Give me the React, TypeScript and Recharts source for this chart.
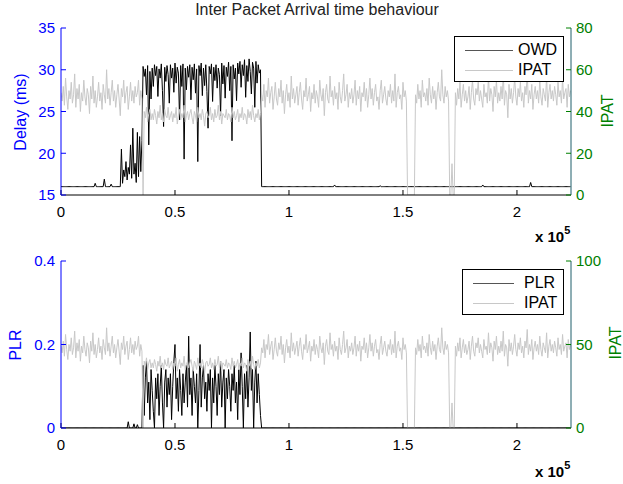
import React from "react";
import { LineChart, Line, XAxis, YAxis } from "recharts";

const FONT = '"Liberation Sans", Arial, Helvetica, sans-serif';
const BLUE = "#0000ff";
const GREEN = "#008000";
const GRAY = "#c8c8c8";
const RIGHT_AXIS = "#1f5f6a";

// sample spacing on the x axis (packets)
const STEP = 500;
const X_MAX = 223700;
const X_TICKS = [0, 50000, 100000, 150000, 200000];

const DELAY_TICKS = [15, 20, 25, 30, 35];
const IPAT_TOP_TICKS = [0, 20, 40, 60, 80];
const PLR_TICKS = [0, 0.2, 0.4];
const IPAT_BOTTOM_TICKS = [0, 50, 100];

// one-way delay (ms), 16 samples per row
const owd = [
  16, 16, 16, 16, 16, 16, 16, 16, 16, 16, 16, 16, 16, 16, 16, 16,
  16, 16, 16, 16, 16, 16, 16, 16, 16, 16, 16, 16, 16, 16, 16.4, 16,
  16, 16, 16, 16, 16, 16, 16.9, 16, 16, 16, 16, 16, 16.3, 16, 16, 16,
  16, 16, 16, 16, 16, 20.5, 16.4, 18, 17.2, 19, 16.8, 18.3, 17.5, 21, 17, 23,
  17.5, 18.8, 16.5, 22.5, 17.2, 22, 17.8, 21.5, 30.4, 29.2, 30.1, 27, 30.5, 21, 29.8, 26.5,
  30.2, 28, 30.6, 29.3, 30.4, 26.8, 30.1, 29, 30.7, 27.5, 23.2, 30.3, 28.6, 30.5, 29.4, 26,
  30.6, 29, 30.2, 27.3, 30.8, 28.4, 30.3, 29.6, 24, 30.5, 28, 30.7, 19.3, 30.2, 27.6, 30.4,
  29.1, 30.6, 26.4, 30.3, 28.8, 30.7, 27.2, 30.1, 19, 30.5, 29.3, 30.8, 26.9, 30.2, 28.1, 30.6,
  27.4, 23, 30.4, 29.5, 30.7, 26.2, 30.3, 28.7, 30.6, 27.8, 30.2, 29.4, 24.5, 30.8, 28.3, 30.5,
  26.6, 30.3, 29.2, 30.9, 27.5, 30.4, 21.5, 30.6, 28.9, 30.2, 26.3, 30.8, 29.5, 31, 27.9, 30.6,
  29.3, 31.2, 26.7, 30.5, 28.6, 31.3, 29.8, 27.1, 30.9, 30.2, 25.5, 31, 28.4, 30.6, 29.6, 30,
  16, 16, 16, 16, 16, 16, 16, 16, 16, 16, 16, 16, 16, 16, 16, 16,
  16, 16, 16, 16, 16, 16, 16, 16, 16, 16, 16, 16, 16, 16, 16, 16,
  16, 16, 16, 16, 16, 16, 16, 16, 16, 16, 16, 16, 16, 16, 16, 16,
  16, 16, 16, 16, 16, 16, 16, 16, 16, 16, 16, 16, 16, 16, 16, 16,
  16.2, 16, 16, 16, 16, 16, 16, 16, 16, 16, 16, 16, 16, 16, 16, 16,
  16, 16, 16, 16, 16, 16, 16, 16, 16, 16, 16, 16, 16, 16, 16, 16,
  16, 16, 16, 16, 16, 16, 16, 16, 16.1, 16, 16, 16, 16, 16, 16, 16,
  16, 16, 16, 16, 16, 16, 16, 16, 16, 16, 16, 16, 16, 16, 16, 16,
  16, 16, 16, 16, 16, 16, 16, 16, 16, 16, 16, 16, 16, 16, 16, 16,
  16, 16, 16, 16, 16, 16, 16, 16, 16, 16, 16, 16, 16, 16, 16, 16,
  16, 16, 16, 16, 16, 16, 16, 16, 16, 16, 16, 16, 16, 16, 16, 16,
  16, 16, 16, 16, 16, 16, 16, 16, 16, 16, 16, 16, 16, 16, 16, 16,
  16, 16, 16.2, 16, 16, 16, 16, 16, 16, 16, 16, 16, 16, 16, 16, 16,
  16, 16, 16, 16, 16, 16, 16, 16, 16, 16, 16, 16, 16, 16, 16, 16,
  16, 16, 16, 16, 16, 16, 16, 16, 16, 16, 16, 16, 16.5, 16, 16, 16,
  16, 16, 16, 16, 16, 16, 16, 16, 16, 16, 16, 16, 16, 16, 16, 16,
  16, 16, 16, 16, 16, 16, 16, 16, 16, 16, 16, 16, 16, 16, 16, 16,
];

// inter packet arrival time, 16 samples per row
const ipat = [
  49, 45, 52, 43, 56, 47, 41, 50, 46, 54, 44, 48, 58, 42, 51, 46,
  53, 40, 49, 45, 55, 47, 43, 51, 48, 39, 52, 46, 57, 44, 50, 42,
  47, 54, 45, 49, 41, 53, 48, 44, 60, 46, 51, 43, 49, 55, 45, 50,
  42, 48, 53, 46, 38, 51, 47, 55, 44, 49, 52, 41, 47, 54, 45, 50,
  44, 52, 47, 49, 55, 43, 50, 46, 0, 40, 37, 42, 35, 39, 41, 36,
  39, 36, 41, 38, 34, 40, 37, 43, 36, 39, 35, 41, 38, 37, 42, 36,
  38, 40, 35, 39, 37, 42, 34, 38, 41, 36, 39, 37, 43, 35, 38, 40,
  36, 39, 41, 37, 34, 40, 38, 35, 42, 37, 39, 36, 41, 38, 33, 39,
  40, 37, 38, 42, 36, 39, 35, 41, 37, 38, 43, 36, 40, 34, 39, 38,
  37, 41, 36, 39, 38, 35, 42, 37, 40, 36, 38, 41, 35, 39, 37, 42,
  36, 39, 38, 34, 41, 37, 40, 36, 43, 38, 35, 39, 37, 41, 36, 39,
  48, 45, 53, 42, 50, 47, 56, 44, 49, 52, 41, 47, 54, 46, 43, 51,
  47, 55, 44, 50, 39, 48, 53, 45, 49, 42, 57, 46, 51, 44, 48, 52,
  43, 49, 54, 46, 41, 50, 47, 56, 45, 48, 52, 40, 49, 46, 53, 44,
  50, 47, 42, 55, 48, 45, 51, 38, 49, 53, 46, 44, 57, 47, 50, 43,
  52, 46, 49, 41, 54, 47, 44, 50, 58, 45, 48, 53, 42, 49, 46, 51,
  44, 48, 55, 43, 50, 46, 52, 40, 49, 47, 54, 45, 51, 42, 48, 56,
  46, 51, 43, 49, 53, 45, 47, 41, 50, 55, 44, 48, 52, 46, 43, 50,
  47, 53, 44, 50, 45, 58, 42, 49, 52, 46, 48, 41, 54, 47, 50, 45,
  0, 0, 0, 0, 0, 0, 0, 48, 44, 53, 46, 50, 42, 55, 47, 49,
  45, 51, 43, 56, 48, 44, 52, 46, 50, 41, 49, 54, 47, 45, 60, 48,
  44, 52, 47, 50, 45, 0, 0, 15, 0, 0, 49, 43, 51, 46, 54, 42,
  48, 53, 45, 50, 44, 47, 52, 41, 49, 55, 46, 43, 51, 48, 54, 45,
  50, 46, 42, 53, 47, 49, 44, 57, 45, 51, 48, 40, 52, 47, 55, 44,
  49, 45, 52, 46, 58, 43, 50, 48, 37, 53, 46, 51, 44, 49, 56, 47,
  43, 51, 47, 54, 45, 49, 42, 52, 48, 59, 44, 50, 46, 53, 41, 48,
  52, 46, 50, 44, 55, 47, 43, 51, 48, 45, 57, 42, 49, 53, 46, 50,
  45, 52, 48, 43, 54, 47, 50, 44, 56, 46, 49, 51, 42, 53, 47, 50,
];

// packet loss ratio, 16 samples per row
const plr = [
  0, 0, 0, 0, 0, 0, 0, 0, 0, 0, 0, 0, 0, 0, 0, 0,
  0, 0, 0, 0, 0, 0, 0, 0, 0, 0, 0, 0, 0, 0, 0, 0,
  0, 0, 0, 0, 0, 0, 0, 0, 0, 0, 0, 0, 0, 0, 0, 0,
  0, 0, 0, 0, 0, 0, 0, 0, 0, 0, 0, 0.015, 0, 0, 0, 0,
  0.01, 0, 0, 0.008, 0, 0, 0, 0, 0.15, 0.03, 0.12, 0.16, 0.06, 0.11, 0.02, 0.14,
  0.09, 0.04, 0, 0.12, 0.07, 0.13, 0.03, 0.1, 0.15, 0.06, 0, 0.11, 0.14, 0.05, 0.12, 0.08,
  0.13, 0.02, 0.1, 0.16, 0.2, 0.07, 0.12, 0.04, 0.14, 0.09, 0.03, 0.13, 0.06, 0.11, 0.15, 0.05,
  0.22, 0.08, 0.12, 0.03, 0.14, 0.1, 0.06, 0.13, 0, 0.09, 0.2, 0.05, 0.12, 0.15, 0.07, 0.11,
  0.04, 0.13, 0.09, 0.14, 0, 0.12, 0.06, 0.15, 0.1, 0.03, 0.13, 0.08, 0.16, 0.05, 0.11, 0.14,
  0, 0.12, 0.07, 0.14, 0.1, 0.04, 0.13, 0.09, 0.15, 0.06, 0.11, 0.02, 0.14, 0.08, 0.18, 0.1,
  0, 0.13, 0.07, 0.15, 0.05, 0.12, 0.23, 0.09, 0.14, 0, 0.11, 0.16, 0.06, 0.13, 0.08, 0.03,
  0, 0, 0, 0, 0, 0, 0, 0, 0, 0, 0, 0, 0, 0, 0, 0,
  0, 0, 0, 0, 0, 0, 0, 0, 0, 0, 0, 0, 0, 0, 0, 0,
  0, 0, 0, 0, 0, 0, 0, 0, 0, 0, 0, 0, 0, 0, 0, 0,
  0, 0, 0, 0, 0, 0, 0, 0, 0, 0, 0, 0, 0, 0, 0, 0,
  0, 0, 0, 0, 0, 0, 0, 0, 0, 0, 0, 0, 0, 0, 0, 0,
  0, 0, 0, 0, 0, 0, 0, 0, 0, 0, 0, 0, 0, 0, 0, 0,
  0, 0, 0, 0, 0, 0, 0, 0, 0, 0, 0, 0, 0, 0, 0, 0,
  0, 0, 0, 0, 0, 0, 0, 0, 0, 0, 0, 0, 0, 0, 0, 0,
  0, 0, 0, 0, 0, 0, 0, 0, 0, 0, 0, 0, 0, 0, 0, 0,
  0, 0, 0, 0, 0, 0, 0, 0, 0, 0, 0, 0, 0, 0, 0, 0,
  0, 0, 0, 0, 0, 0, 0, 0, 0, 0, 0, 0, 0, 0, 0, 0,
  0, 0, 0, 0, 0, 0, 0, 0, 0, 0, 0, 0, 0, 0, 0, 0,
  0, 0, 0, 0, 0, 0, 0, 0, 0, 0, 0, 0, 0, 0, 0, 0,
  0, 0, 0, 0, 0, 0, 0, 0, 0, 0, 0, 0, 0, 0, 0, 0,
  0, 0, 0, 0, 0, 0, 0, 0, 0, 0, 0, 0, 0, 0, 0, 0,
  0, 0, 0, 0, 0, 0, 0, 0, 0, 0, 0, 0, 0, 0, 0, 0,
  0, 0, 0, 0, 0, 0, 0, 0, 0, 0, 0, 0, 0, 0, 0, 0,
];

const data = owd.map((v, i) => ({ x: i * STEP, owd: v, ipat: ipat[i], plr: plr[i] }));

const fmtX = (v: number) => String(v / 1e5);
const tickFont = { fontSize: 15, fontFamily: FONT };

function Panel(props: {
  top: number;
  height: number;
  marginTop: number;
  xHeight: number;
  leftKey: string;
  leftDomain: [number, number];
  leftTicks: number[];
  rightDomain: [number, number];
  rightTicks: number[];
}) {
  return (
    <div style={{ position: "absolute", left: 0, top: props.top }}>
      <LineChart
        width={623}
        height={props.height}
        data={data}
        margin={{ top: props.marginTop, right: 0, bottom: 0, left: 0 }}
      >
        <XAxis
          xAxisId="b"
          dataKey="x"
          type="number"
          domain={[0, X_MAX]}
          ticks={X_TICKS}
          allowDataOverflow
          tickFormatter={fmtX}
          height={props.xHeight}
          tickSize={-5}
          tickMargin={16}
          axisLine={{ stroke: "#000" }}
          tickLine={{ stroke: "#000" }}
          tick={{ ...tickFont, fill: "#000" }}
        />
        <XAxis
          xAxisId="t"
          orientation="top"
          dataKey="x"
          type="number"
          domain={[0, X_MAX]}
          ticks={X_TICKS}
          allowDataOverflow
          height={0}
          tickSize={-5}
          tick={false}
          axisLine={{ stroke: "#000" }}
          tickLine={{ stroke: "#000" }}
        />
        <YAxis
          yAxisId="l"
          domain={props.leftDomain}
          ticks={props.leftTicks}
          allowDataOverflow
          width={61}
          tickSize={-5}
          tickMargin={11}
          axisLine={{ stroke: BLUE }}
          tickLine={{ stroke: BLUE }}
          tick={{ ...tickFont, fill: BLUE }}
        />
        <YAxis
          yAxisId="r"
          orientation="right"
          domain={props.rightDomain}
          ticks={props.rightTicks}
          allowDataOverflow
          width={52}
          tickSize={-5}
          tickMargin={10}
          axisLine={{ stroke: RIGHT_AXIS }}
          tickLine={{ stroke: GREEN }}
          tick={{ ...tickFont, fill: GREEN, textAnchor: "start" }}
        />
        <Line
          xAxisId="b"
          yAxisId="l"
          type="linear"
          dataKey={props.leftKey}
          stroke="#000"
          strokeWidth={1}
          dot={false}
          activeDot={false}
          isAnimationActive={false}
        />
        <Line
          xAxisId="b"
          yAxisId="r"
          type="linear"
          dataKey="ipat"
          stroke={GRAY}
          strokeWidth={1}
          dot={false}
          activeDot={false}
          isAnimationActive={false}
        />
      </LineChart>
    </div>
  );
}

function LegendBox(props: { left: number; top: number; width: number; lineX: number; lineW: number; textX: number; labels: string[] }) {
  const colors = ["#555", GRAY];
  return (
    <div
      style={{
        position: "absolute",
        left: props.left,
        top: props.top,
        width: props.width,
        height: 46,
        border: "1px solid #000",
        background: "#fff",
        boxSizing: "border-box",
      }}
    >
      {props.labels.map((lab, i) => (
        <React.Fragment key={lab}>
          <div
            style={{
              position: "absolute",
              left: props.lineX,
              top: 13 + i * 20,
              width: props.lineW,
              height: 0,
              borderTop: `1px solid ${colors[i]}`,
            }}
          />
          <div
            style={{
              position: "absolute",
              left: props.textX,
              top: 4 + i * 20,
              fontSize: 16,
              lineHeight: "18px",
              color: "#000",
            }}
          >
            {lab}
          </div>
        </React.Fragment>
      ))}
    </div>
  );
}

function VLabel(props: { x: number; y: number; color: string; text: string }) {
  return (
    <div
      style={{
        position: "absolute",
        left: props.x,
        top: props.y,
        transform: "translate(-50%, -50%) rotate(-90deg)",
        whiteSpace: "nowrap",
        color: props.color,
        fontSize: 16,
        lineHeight: "18px",
      }}
    >
      {props.text}
    </div>
  );
}

function Exponent(props: { top: number }) {
  return (
    <div style={{ position: "absolute", left: 535, top: props.top, fontSize: 15, fontWeight: "bold", color: "#000", whiteSpace: "nowrap" }}>
      x 10
      <span style={{ position: "relative", top: -8, fontSize: 11 }}>5</span>
    </div>
  );
}

export default function App() {
  return (
    <div
      style={{
        position: "absolute",
        left: 0,
        top: 0,
        width: 623,
        height: 484,
        background: "#fff",
        fontFamily: FONT,
        overflow: "hidden",
      }}
    >
      <div
        style={{
          position: "absolute",
          left: 0,
          width: 623,
          top: 1,
          textAlign: "center",
          fontSize: 16,
          lineHeight: "18px",
          color: "#222",
          paddingLeft: 11,
          boxSizing: "border-box",
        }}
      >
        Inter Packet Arrival time behaviour
      </div>
      <Panel
        top={0}
        height={240}
        marginTop={28}
        xHeight={45}
        leftKey="owd"
        leftDomain={[15, 35]}
        leftTicks={DELAY_TICKS}
        rightDomain={[0, 80]}
        rightTicks={IPAT_TOP_TICKS}
      />
      <Panel
        top={240}
        height={244}
        marginTop={21}
        xHeight={56}
        leftKey="plr"
        leftDomain={[0, 0.4]}
        leftTicks={PLR_TICKS}
        rightDomain={[0, 100]}
        rightTicks={IPAT_BOTTOM_TICKS}
      />
      <LegendBox left={454} top={36} width={110} lineX={10} lineW={48} textX={63} labels={["OWD", "IPAT"]} />
      <LegendBox left={462} top={269} width={102} lineX={10} lineW={41} textX={61} labels={["PLR", "IPAT"]} />
      <VLabel x={21} y={112} color={BLUE} text="Delay (ms)" />
      <VLabel x={608} y={111} color={GREEN} text="IPAT" />
      <VLabel x={16} y={345} color={BLUE} text="PLR" />
      <VLabel x={616} y={343} color={GREEN} text="IPAT" />
      <Exponent top={228} />
      <Exponent top={463} />
    </div>
  );
}
